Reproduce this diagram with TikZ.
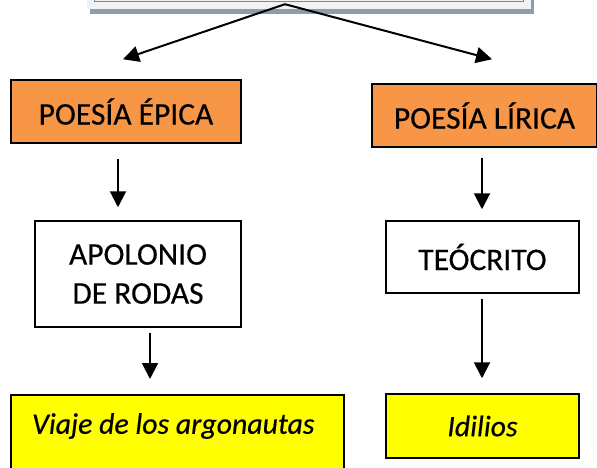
\documentclass[tikz,border=0pt]{standalone}
\usepackage{fontspec}
\setmainfont{Carlito}[FakeBold=0.4]
\usepackage{xcolor}
\usepackage{tikz}
\usetikzlibrary{arrows.meta,shadows}

\definecolor{genreorange}{HTML}{F79646}
\definecolor{workyellow}{HTML}{FFFF00}
\definecolor{titlegray}{HTML}{F2F2F2}
\definecolor{titleshadow}{HTML}{8E9CAE}
\definecolor{titleblue}{HTML}{5B8DD3}

\begin{document}
\begin{tikzpicture}[x=1pt, y=-1pt,
    every node/.style={font=\fontsize{31.5}{39}\selectfont},
    genre/.style={draw, line width=1.5pt, fill=genreorange, inner sep=0pt},
    author/.style={draw, line width=1.5pt, fill=white, align=center, inner sep=0pt},
    work/.style={draw, line width=1.5pt, fill=workyellow, inner sep=0pt,
        font=\fontsize{29.8}{36}\selectfont\itshape},
    arr/.style={-{Triangle[length=16pt,width=16pt]}, line width=2pt}]
    \useasboundingbox (0,0) rectangle (597,467);
    \clip (0,0) rectangle (597,467);

    % Title box (cut off at the top)
    \node[fill=titlegray, minimum width=444pt, minimum height=49pt, inner sep=0pt,
        drop shadow={shadow xshift=3pt, shadow yshift=-5pt, fill=titleshadow, opacity=1}]
        (tema) at (309,-15.5) {};
    \draw[titleblue, line width=1.2pt] ([xshift=8pt,yshift=8pt]tema.south west)
        rectangle ([xshift=-8pt,yshift=-8pt]tema.north east);

    % Genres
    \node[genre, minimum width=230pt, minimum height=63pt]
        (epica) at (126,111.5) {POESÍA ÉPICA};
    \node[genre, minimum width=225pt, minimum height=63pt]
        (lirica) at (484.5,115.5) {POESÍA LÍRICA};

    % Authors
    \node[author, minimum width=206pt, minimum height=106pt]
        (apolonio) at (138,274) {APOLONIO\\DE RODAS};
    \node[author, minimum width=193pt, minimum height=72pt]
        (teocrito) at (482.5,257) {TEÓCRITO};

    % Works
    \node[work, anchor=north, minimum width=333pt, inner ysep=14pt,
        text width=291pt, align=flush left, text height=25pt, text depth=60pt]
        (viaje) at (177.5,394) {\mbox{Viaje de los argonautas}};
    \node[work, minimum width=193pt, minimum height=64pt]
        (idilios) at (482.5,426) {Idilios};

    % Arrows
    \draw[arr] ([xshift=-24pt,yshift=5pt]tema.south) -- ([xshift=-3pt,yshift=20pt]epica.north);
    \draw[arr] ([xshift=-24pt,yshift=5pt]tema.south) -- ([xshift=7.5pt,yshift=24pt]lirica.north);
    \draw[arr] ([xshift=-8pt,yshift=-15pt]epica.south) -- ([xshift=-20pt,yshift=13pt]apolonio.north);
    \draw[arr] ([xshift=-2.5pt,yshift=-10pt]lirica.south) -- ([xshift=-0.5pt,yshift=11pt]teocrito.north);
    \draw[arr] ([xshift=12pt,yshift=-5pt]apolonio.south) -- ([xshift=-27.5pt,yshift=15pt]viaje.north);
    \draw[arr] ([xshift=-0.5pt,yshift=-5pt]teocrito.south) -- ([xshift=-0.5pt,yshift=15pt]idilios.north);
\end{tikzpicture}
\end{document}
